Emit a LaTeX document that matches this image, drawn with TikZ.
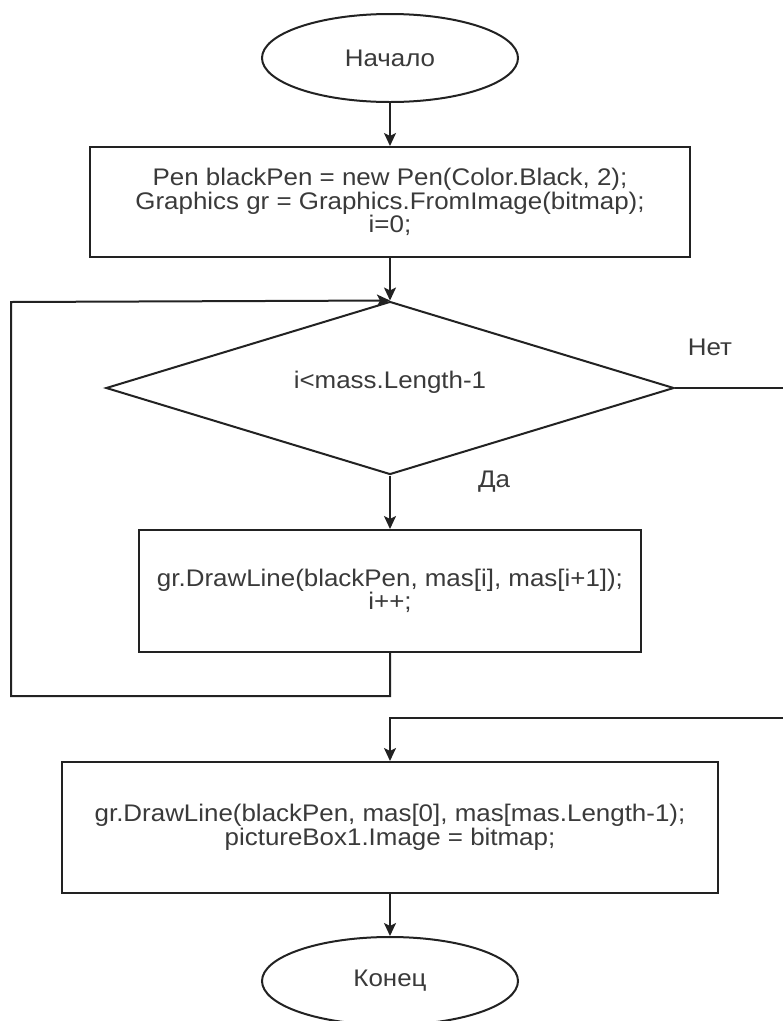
\documentclass[tikz,border=0pt]{standalone}
\usepackage{fontspec}
\setmainfont{Liberation Sans}[FakeStretch=1.08]
\usetikzlibrary{shapes.geometric,arrows.meta}
\definecolor{ink}{HTML}{222222}
\definecolor{txt}{HTML}{3A3A3A}
\begin{document}
\begin{tikzpicture}[x=1pt,y=-1pt,
  line/.style={draw=ink, line width=2pt},
  arr/.style={line, -{Stealth[length=13pt,width=12pt,inset=3pt]}},
  lbl/.style={text=txt, font=\fontsize{24}{23.5}\selectfont},
  term/.style={ellipse, line, fill=white, minimum width=256pt, minimum height=88pt, inner sep=0pt, lbl},
  procbox/.style={rectangle, line, fill=white, inner sep=0pt, align=center, lbl},
  decbox/.style={diamond, line, fill=white, inner sep=0pt, lbl}
]
\useasboundingbox (0,0) rectangle (783,1021);
\fill[white] (0,0) rectangle (783,1021);

\node[term] (start) at (390,58) {Начало};
\node[procbox, minimum width=600pt, minimum height=110pt] (b1) at (390,202)
  {Pen blackPen = new Pen(Color.Black, 2);\\Graphics gr = Graphics.FromImage(bitmap);\\i=0;};
\node[decbox, minimum width=568pt, minimum height=173pt] (dec) at (390,388)
  {\smash{\makebox[0pt]{i<mass.Length-1}}};
\node[procbox, minimum width=502pt, minimum height=122pt] (b2) at (390,591)
  {gr.DrawLine(blackPen, mas[i], mas[i+1]);\\i++;};
\node[procbox, minimum width=656pt, minimum height=131pt] (b3) at (390,827.5)
  {gr.DrawLine(blackPen, mas[0], mas[mas.Length-1);\\pictureBox1.Image = bitmap;};
\node[term] (end) at (390,981) {Конец};

\node[lbl] (no) at (710,347) {Нет};
\node[lbl] (yes) at (494,482) {Да};

\coordinate (lb) at (11,696);
\coordinate (lt) at (11,302);
\coordinate (r1) at (790,388);
\coordinate (r2) at (790,718);

\draw[arr] (start.south) -- (b1.north);
\draw[arr] (b1.south) -- (dec.north);
\draw[arr] (dec.south) -- (b2.north);
\draw[arr] (b2.south) |- (lb) -- (lt) -- (dec.north);
\draw[arr] (dec.east) -- (r1) -- (r2) -| (b3.north);
\draw[arr] (b3.south) -- (end.north);
\end{tikzpicture}
\end{document}
